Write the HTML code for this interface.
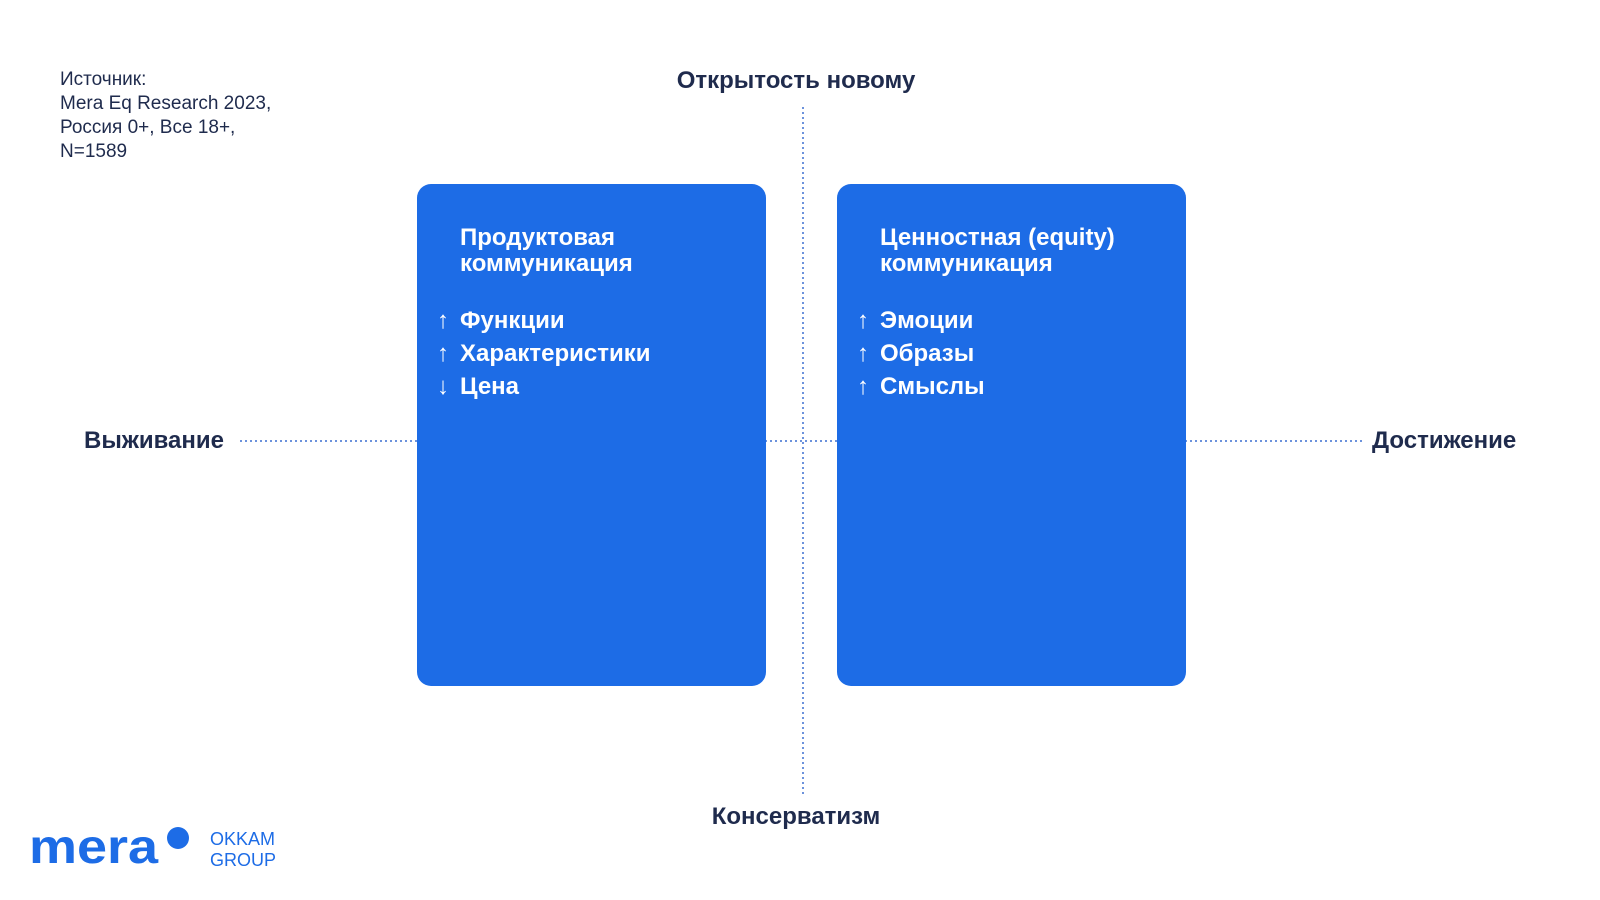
<!DOCTYPE html>
<html><head><meta charset="utf-8"><style>
body{margin:0;width:1600px;height:900px;background:#fff;position:relative;overflow:hidden;font-family:"Liberation Sans",sans-serif;color:#1f2b4d}
.a{position:absolute;white-space:nowrap}
.box{position:absolute;top:184px;width:349px;height:502px;background:#1d6ce6;border-radius:14px;color:#fff}
.t{position:absolute;left:43px;top:41px;font-size:24px;font-weight:bold;line-height:26px}
.it{position:absolute;left:20px;font-size:24px;font-weight:bold;line-height:30px}
.it span{display:inline-block;width:23px;font-weight:normal}
.lab{font-size:24px;font-weight:bold}
</style></head><body>
<div class="a" style="left:60px;top:68px;font-size:19px;line-height:24px">Источник:<br>Mera Eq Research 2023,<br>Россия 0+, Все 18+,<br>N=1589</div>
<svg class="a" style="left:0;top:0" width="1600" height="900">
<line x1="803" y1="107" x2="803" y2="795" stroke="#3b6fd0" stroke-width="1.5" stroke-dasharray="2,3"/>
<line x1="240" y1="441" x2="1365" y2="441" stroke="#3b6fd0" stroke-width="1.5" stroke-dasharray="2,3"/>
<circle cx="178" cy="838" r="11" fill="#1d6ce6"/>
</svg>
<div class="box" style="left:417px">
<div class="t">Продуктовая<br>коммуникация</div>
<div class="it" style="top:122px"><span>↑</span>Функции</div>
<div class="it" style="top:155px"><span>↑</span>Характеристики</div>
<div class="it" style="top:188px"><span>↓</span>Цена</div>
</div>
<div class="box" style="left:837px">
<div class="t">Ценностная (equity)<br>коммуникация</div>
<div class="it" style="top:122px"><span>↑</span>Эмоции</div>
<div class="it" style="top:155px"><span>↑</span>Образы</div>
<div class="it" style="top:188px"><span>↑</span>Смыслы</div>
</div>
<div class="a lab" style="left:0;width:1592px;text-align:center;top:67px">Открытость новому</div>
<div class="a lab" style="left:0;width:1592px;text-align:center;top:803px">Консерватизм</div>
<div class="a lab" style="left:84px;top:427px">Выживание</div>
<div class="a lab" style="left:1372px;top:427px">Достижение</div>
<div class="a" style="left:29px;top:814px;font-size:54px;font-weight:bold;color:#1d6ce6;letter-spacing:0px;line-height:60px;transform:scaleY(0.9);transform-origin:left bottom">mera</div>
<div class="a" style="left:210px;top:829px;font-size:18px;line-height:21px;color:#1d6ce6">OKKAM<br>GROUP</div>
</body></html>
